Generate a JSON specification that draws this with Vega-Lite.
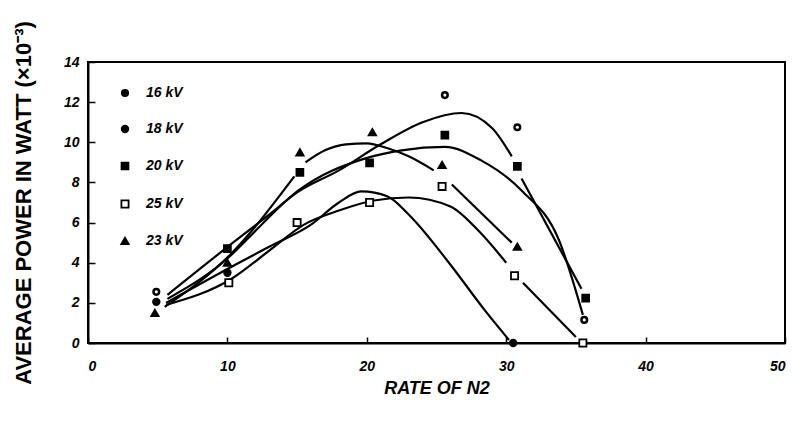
{
  "$schema": "https://vega.github.io/schema/vega-lite/v6.json",
  "width": 697,
  "height": 281,
  "autosize": {"type": "none"},
  "padding": {"left": 88, "top": 62, "right": 9, "bottom": 78},
  "background": "white",
  "config": {
    "view": {"stroke": "black", "strokeWidth": 2},
    "font": "Liberation Sans",
    "axis": {"grid": false, "domainColor": "black", "domainWidth": 2, "tickColor": "black", "tickWidth": 1.5,
      "labelColor": "black", "labelFont": "Liberation Sans", "labelFontStyle": "italic", "labelFontWeight": "bold", "labelFontSize": 14,
      "titleColor": "black", "titleFont": "Liberation Sans", "titleFontWeight": "bold"}
  },
  "datasets": {
    "pts": [
      {"series": "16 kV", "x": 4.9, "y": 2.55}, {"series": "16 kV", "x": 25.6, "y": 12.35}, {"series": "16 kV", "x": 30.8, "y": 10.75}, {"series": "16 kV", "x": 35.6, "y": 1.15},
      {"series": "18 kV", "x": 4.9, "y": 2.05}, {"series": "18 kV", "x": 10, "y": 3.5}, {"series": "18 kV", "x": 30.5, "y": 0.0},
      {"series": "20 kV", "x": 10, "y": 4.7}, {"series": "20 kV", "x": 15.2, "y": 8.5}, {"series": "20 kV", "x": 20.2, "y": 8.97}, {"series": "20 kV", "x": 25.6, "y": 10.36}, {"series": "20 kV", "x": 30.8, "y": 8.8}, {"series": "20 kV", "x": 35.7, "y": 2.24},
      {"series": "25 kV", "x": 10.1, "y": 3.0}, {"series": "25 kV", "x": 15, "y": 6.0}, {"series": "25 kV", "x": 20.2, "y": 7.0}, {"series": "25 kV", "x": 25.4, "y": 7.8}, {"series": "25 kV", "x": 30.6, "y": 3.35}, {"series": "25 kV", "x": 35.5, "y": 0.0},
      {"series": "23 kV", "x": 4.8, "y": 1.5}, {"series": "23 kV", "x": 10, "y": 4.0}, {"series": "23 kV", "x": 15.2, "y": 9.5}, {"series": "23 kV", "x": 20.4, "y": 10.5}, {"series": "23 kV", "x": 25.4, "y": 8.87}, {"series": "23 kV", "x": 30.8, "y": 4.8}
    ],
    "curves": [
      {"seg": "c1", "x": 5.6, "y": 2.0}, {"seg": "c1", "x": 10.3, "y": 3.8}, {"seg": "c1", "x": 13, "y": 4.8}, {"seg": "c1", "x": 16, "y": 5.9}, {"seg": "c1", "x": 18, "y": 7.0}, {"seg": "c1", "x": 19.6, "y": 7.55}, {"seg": "c1", "x": 21.5, "y": 7.3}, {"seg": "c1", "x": 23, "y": 6.4}, {"seg": "c1", "x": 26, "y": 3.9}, {"seg": "c1", "x": 28.5, "y": 1.6}, {"seg": "c1", "x": 30.2, "y": 0.15},
      {"seg": "c2", "x": 5.6, "y": 1.9}, {"seg": "c2", "x": 10.3, "y": 3.2}, {"seg": "c2", "x": 13, "y": 4.6}, {"seg": "c2", "x": 15.5, "y": 5.9}, {"seg": "c2", "x": 18, "y": 6.6}, {"seg": "c2", "x": 20.5, "y": 7.1}, {"seg": "c2", "x": 23, "y": 7.25}, {"seg": "c2", "x": 26, "y": 6.8}, {"seg": "c2", "x": 28, "y": 5.6}, {"seg": "c2", "x": 30, "y": 4.0},
      {"seg": "c2b", "x": 31.2, "y": 3.0}, {"seg": "c2b", "x": 35.0, "y": 0.3},
      {"seg": "c3", "x": 5.7, "y": 2.4}, {"seg": "c3", "x": 10.4, "y": 5.0}, {"seg": "c3", "x": 13, "y": 6.4}, {"seg": "c3", "x": 15, "y": 7.5}, {"seg": "c3", "x": 18, "y": 8.6}, {"seg": "c3", "x": 21, "y": 9.9}, {"seg": "c3", "x": 24, "y": 11.0}, {"seg": "c3", "x": 26.8, "y": 11.46}, {"seg": "c3", "x": 29, "y": 10.7}, {"seg": "c3", "x": 30.4, "y": 9.3},
      {"seg": "c3b", "x": 31.1, "y": 8.2}, {"seg": "c3b", "x": 35.4, "y": 2.7},
      {"seg": "c4", "x": 5.7, "y": 2.2}, {"seg": "c4", "x": 10.3, "y": 4.4}, {"seg": "c4", "x": 11.6, "y": 5.3}, {"seg": "c4", "x": 15.1, "y": 7.6}, {"seg": "c4", "x": 19.9, "y": 9.2}, {"seg": "c4", "x": 22.5, "y": 9.6}, {"seg": "c4", "x": 25.6, "y": 9.77}, {"seg": "c4", "x": 28.2, "y": 9.1}, {"seg": "c4", "x": 31.1, "y": 7.6}, {"seg": "c4", "x": 33.8, "y": 5.1}, {"seg": "c4", "x": 35.5, "y": 1.4},
      {"seg": "c5a", "x": 5.5, "y": 1.8}, {"seg": "c5a", "x": 10.2, "y": 4.4}, {"seg": "c5a", "x": 14.8, "y": 8.3},
      {"seg": "c5b", "x": 15.6, "y": 9.0}, {"seg": "c5b", "x": 17, "y": 9.6}, {"seg": "c5b", "x": 18.5, "y": 9.9}, {"seg": "c5b", "x": 20, "y": 9.95}, {"seg": "c5b", "x": 21.5, "y": 9.7}, {"seg": "c5b", "x": 23, "y": 9.3}, {"seg": "c5b", "x": 24.8, "y": 8.6},
      {"seg": "c5c", "x": 26.1, "y": 7.9}, {"seg": "c5c", "x": 30.4, "y": 5.0}
    ]
  },
  "layer": [
    {
      "data": {"name": "curves"},
      "mark": {"type": "line", "interpolate": "monotone", "color": "black", "strokeWidth": 2.2},
      "encoding": {
        "x": {"field": "x", "type": "quantitative", "scale": {"domain": [0, 50], "nice": false},
          "axis": {"values": [0, 10, 20, 30, 40, 50], "tickSize": -6, "labelPadding": 22, "title": "RATE OF N2", "titleFontSize": 18, "titleFontStyle": "italic", "titlePadding": 6}},
        "y": {"field": "y", "type": "quantitative", "scale": {"domain": [0, 14], "nice": false},
          "axis": {"values": [0, 2, 4, 6, 8, 10, 12, 14], "tickSize": -7, "labelPadding": 16, "title": "AVERAGE POWER IN WATT (×10⁻³)", "titleFontSize": 22, "titlePadding": 28}},
        "detail": {"field": "seg"}
      }
    },
    {
      "data": {"name": "pts"},
      "mark": {"type": "point", "filled": true, "stroke": "black", "strokeWidth": 1.8, "opacity": 1},
      "encoding": {
        "x": {"field": "x", "type": "quantitative"},
        "y": {"field": "y", "type": "quantitative"},
        "shape": {"field": "series", "type": "nominal", "scale": {"domain": ["16 kV", "18 kV", "20 kV", "25 kV", "23 kV"], "range": ["circle", "circle", "square", "square", "triangle-up"]},
          "legend": {"title": null, "orient": "none", "legendX": 30, "legendY": 24, "padding": 0, "rowPadding": 22, "labelFontSize": 14, "labelFontStyle": "italic", "labelFontWeight": "bold", "labelFont": "Liberation Sans", "labelColor": "black", "labelOffset": 14, "symbolStrokeColor": "black", "symbolStrokeWidth": 1.8}},
        "fill": {"field": "series", "type": "nominal", "scale": {"domain": ["16 kV", "18 kV", "20 kV", "25 kV", "23 kV"], "range": ["black", "black", "black", "white", "black"]}},
        "size": {"field": "series", "type": "nominal", "scale": {"domain": ["16 kV", "18 kV", "20 kV", "25 kV", "23 kV"], "range": [40, 55, 75, 65, 85]}}
      }
    },
    {
      "data": {"name": "pts"},
      "transform": [{"filter": "datum.series === '16 kV'"}],
      "mark": {"type": "point", "filled": true, "fill": "white", "size": 10, "opacity": 1},
      "encoding": {
        "x": {"field": "x", "type": "quantitative"},
        "y": {"field": "y", "type": "quantitative"}
      }
    },
    {
      "mark": {"type": "text", "align": "left", "baseline": "middle", "fontSize": 14, "fontStyle": "italic", "fontWeight": "bold", "font": "Liberation Sans", "color": "black"},
      "encoding": {
        "x": {"datum": 33.6},
        "y": {"datum": 12.06},
        "text": {"value": "Prf = 1 Hz"}
      }
    },
    {
      "mark": {"type": "text", "align": "left", "baseline": "middle", "fontSize": 14, "fontStyle": "italic", "fontWeight": "bold", "font": "Liberation Sans", "color": "black"},
      "encoding": {
        "x": {"datum": 33.4},
        "y": {"datum": 10.7},
        "text": {"value": "CO2 : He = 20:37"}
      }
    }
  ]
}
